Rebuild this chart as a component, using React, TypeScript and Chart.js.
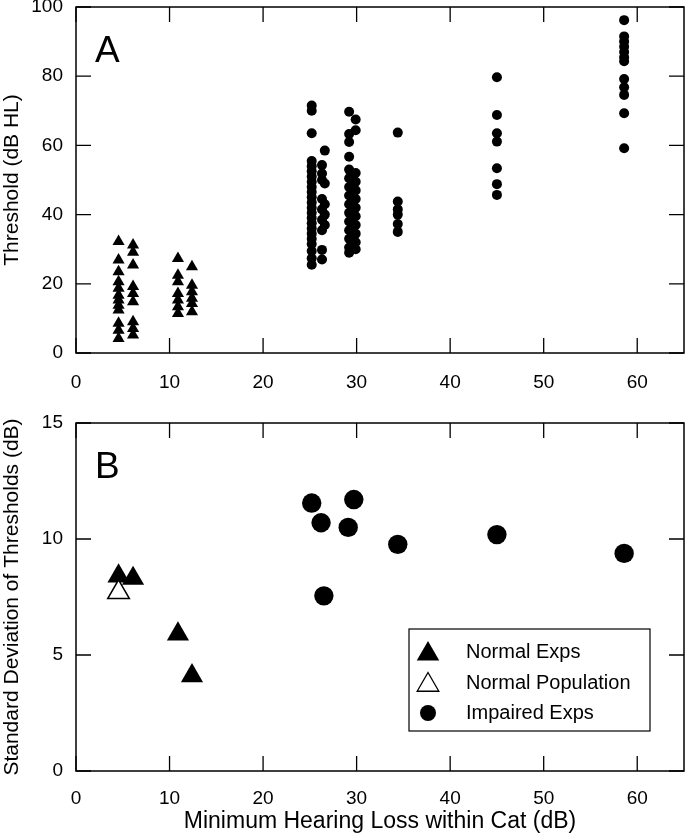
import React, { useEffect, useRef } from 'react';
import { Chart, registerables } from 'chart.js';

Chart.register(...registerables);

const FONT = "'Liberation Sans', Arial, Helvetica, sans-serif";

// ---------- Panel A: thresholds per cat ----------
const normalCatHL = [4.55, 6.1, 10.9, 12.4];
const normalCat1 = [32.2, 26.9, 23.5, 20.6, 18.7, 16.7, 15.3, 13.8, 12.4, 8.6, 6.6, 4.2];
const normalCat2 = [31.2, 29.1, 25.4, 19.2, 17.2, 14.8, 9.0, 7.1, 5.2];
const normalCat3 = [27.3, 22.5, 20.6, 17.2, 15.3, 13.4, 11.4];
const normalCat4 = [24.9, 19.6, 17.7, 15.8, 14.3, 11.9];

const impairedCatHL = [25.2, 26.3, 26.6, 29.2, 29.9, 34.4, 45.0, 58.6];
const impairedCat1 = [71.5, 70.0, 63.5, 55.5, 54.0, 52.5, 51.0, 49.5, 48.0, 46.5, 45.0, 43.5, 42.0, 40.5, 39.0, 37.5, 36.0, 34.5, 33.0, 31.5, 29.5, 27.4, 25.5];
const impairedCat2 = [54.3, 51.9, 50.0, 44.5, 41.5, 38.5, 35.5, 29.8, 27.0];
const impairedCat3 = [58.5, 49.0, 43.0, 40.0, 37.0];
const impairedCat4 = [69.7, 63.3, 61.0, 56.7, 53.0, 50.5, 48.0, 45.5, 43.0, 40.5, 38.0, 35.5, 33.0, 30.5, 29.0];
const impairedCat5 = [67.5, 64.4, 52.0, 49.5, 47.0, 44.5, 42.0, 39.5, 37.0, 34.5, 32.0, 30.0];
const impairedCat6 = [63.7, 43.8, 41.5, 40.0, 37.3, 35.0];
const impairedCat7 = [79.7, 68.8, 63.5, 61.1, 53.4, 48.8, 45.7];
const impairedCat8 = [96.2, 91.5, 90.0, 88.5, 87.0, 85.5, 84.3, 79.2, 76.8, 74.6, 69.3, 59.2];

const normalCats = [normalCat1, normalCat2, normalCat3, normalCat4];
const impairedCats = [impairedCat1, impairedCat2, impairedCat3, impairedCat4, impairedCat5, impairedCat6, impairedCat7, impairedCat8];

// ---------- Panel B: standard deviations ----------
const sdNormalHL = [4.55, 6.1, 10.9, 12.4];
const sdNormal = [8.4, 8.3, 5.9, 4.1];
const sdPopHL = [4.55];
const sdPop = [7.7];
const sdImpairedHL = [25.2, 26.2, 26.5, 29.1, 29.7, 34.4, 45.0, 58.6];
const sdImpaired = [11.55, 10.7, 7.55, 10.5, 11.7, 9.77, 10.19, 9.38];

const legendLabels = ['Normal Exps', 'Normal Population', 'Impaired Exps'];

const xTicks = [0, 10, 20, 30, 40, 50, 60];

function columnsToPoints(xs: number[], cols: number[][]) {
  const pts: { x: number; y: number }[] = [];
  cols.forEach((col, i) => col.forEach((v) => pts.push({ x: xs[i], y: v })));
  return pts;
}
function zip(xs: number[], ys: number[]) {
  return xs.map((x, i) => ({ x, y: ys[i] }));
}

const frameTicksPlugin = {
  id: 'frameTicks',
  afterDraw(chart: any) {
    const { ctx, chartArea } = chart;
    const { left, right, top, bottom } = chartArea;
    const len = 15;
    ctx.save();
    ctx.strokeStyle = '#000';
    ctx.lineWidth = 1.3;
    const xs = chart.scales.x;
    const ys = chart.scales.y;
    ctx.beginPath();
    xs.ticks.forEach((t: any) => {
      const px = xs.getPixelForValue(t.value);
      ctx.moveTo(px, bottom);
      ctx.lineTo(px, bottom - len);
      ctx.moveTo(px, top);
      ctx.lineTo(px, top + len);
    });
    ys.ticks.forEach((t: any) => {
      const py = ys.getPixelForValue(t.value);
      ctx.moveTo(left, py);
      ctx.lineTo(left + len, py);
      ctx.moveTo(right, py);
      ctx.lineTo(right - len, py);
    });
    ctx.stroke();
    ctx.lineWidth = 1.5;
    ctx.strokeRect(left, top, right - left, bottom - top);
    const label = chart.options.plugins.panelLabel?.text;
    if (label) {
      ctx.fillStyle = '#000';
      ctx.font = `37px ${FONT}`;
      ctx.textAlign = 'left';
      ctx.textBaseline = 'alphabetic';
      ctx.fillText(label, left + 19, top + 55);
    }
    ctx.restore();
  },
};

function drawMarker(ctx: CanvasRenderingContext2D, style: string, x: number, y: number, r: number, fill: string, stroke: string, lw: number) {
  ctx.beginPath();
  if (style === 'triangle') {
    let rad = 0;
    const third = (2 * Math.PI) / 3;
    ctx.moveTo(x + Math.sin(rad) * r, y - Math.cos(rad) * r);
    rad += third;
    ctx.lineTo(x + Math.sin(rad) * r, y - Math.cos(rad) * r);
    rad += third;
    ctx.lineTo(x + Math.sin(rad) * r, y - Math.cos(rad) * r);
    ctx.closePath();
  } else {
    ctx.arc(x, y, r, 0, Math.PI * 2);
  }
  ctx.fillStyle = fill;
  ctx.fill();
  if (lw > 0) {
    ctx.strokeStyle = stroke;
    ctx.lineWidth = lw;
    ctx.stroke();
  }
}

const boxLegendPlugin = {
  id: 'boxLegend',
  afterDraw(chart: any) {
    if (!chart.options.plugins.boxLegend?.enabled) return;
    const { ctx, chartArea } = chart;
    const bx = chartArea.left + 333;
    const by = chartArea.top + 206;
    const bw = 241;
    const bh = 102;
    ctx.save();
    ctx.strokeStyle = '#000';
    ctx.lineWidth = 1.2;
    ctx.strokeRect(bx, by, bw, bh);
    const rows = [23, 54, 84];
    const styles = [
      { s: 'triangle', r: 13, fill: '#000', stroke: '#000', lw: 0, dy: 2 },
      { s: 'triangle', r: 12.5, fill: '#fff', stroke: '#000', lw: 1.3, dy: 2 },
      { s: 'circle', r: 8, fill: '#000', stroke: '#000', lw: 0, dy: 0 },
    ];
    ctx.font = `20px ${FONT}`;
    ctx.textAlign = 'left';
    ctx.textBaseline = 'middle';
    chart.data.datasets.forEach((ds: any, i: number) => {
      const st = styles[i];
      drawMarker(ctx, st.s, bx + 19, by + rows[i] + st.dy, st.r, st.fill, st.stroke, st.lw);
      ctx.fillStyle = '#000';
      ctx.fillText(legendLabels[i], bx + 57, by + rows[i]);
    });
    ctx.restore();
  },
};

function makeScales(yMax: number, yStep: number, yTitle: string, xTitle: string | null, xAxisHeight: number, xLabelPad: number) {
  return {
    x: {
      type: 'linear',
      min: 0,
      max: 65,
      afterBuildTicks: (s: any) => {
        s.ticks = xTicks.map((v) => ({ value: v }));
      },
      ticks: { includeBounds: false, padding: xLabelPad, maxRotation: 0, autoSkip: false, color: '#000', font: { family: FONT, size: 19 } },
      grid: { display: false, drawTicks: false },
      border: { display: false },
      title: xTitle
        ? { display: true, text: xTitle, color: '#000', padding: 0, font: { family: FONT, size: 23 } }
        : { display: false },
      afterFit: (s: any) => {
        s.height = xAxisHeight;
        s.paddingLeft = 0;
        s.paddingRight = 0;
      },
    },
    y: {
      type: 'linear',
      min: 0,
      max: yMax,
      ticks: { stepSize: yStep, includeBounds: false, padding: 13, color: '#000', font: { family: FONT, size: 19 } },
      grid: { display: false, drawTicks: false },
      border: { display: false },
      title: { display: true, text: yTitle, color: '#000', padding: 0, font: { family: FONT, size: 21 } },
      afterFit: (s: any) => {
        s.width = 76;
        s.paddingTop = 0;
        s.paddingBottom = 0;
      },
    },
  };
}

export default function App() {
  const refA = useRef<HTMLCanvasElement>(null);
  const refB = useRef<HTMLCanvasElement>(null);

  useEffect(() => {
    document.body.style.margin = '0';
    const chartA = new Chart(refA.current as HTMLCanvasElement, {
      type: 'scatter',
      data: {
        datasets: [
          {
            label: 'Normal Exps',
            data: columnsToPoints(normalCatHL, normalCats),
            pointStyle: 'triangle',
            pointRadius: 7,
            backgroundColor: '#000',
            borderColor: '#000',
            borderWidth: 0,
          },
          {
            label: 'Impaired Exps',
            data: columnsToPoints(impairedCatHL, impairedCats),
            pointStyle: 'circle',
            pointRadius: 5,
            backgroundColor: '#000',
            borderColor: '#000',
            borderWidth: 0,
          },
        ],
      },
      options: {
        animation: false,
        responsive: false,
        events: [],
        layout: { autoPadding: false, padding: { top: 7, right: 1, left: 0, bottom: 0 } },
        scales: makeScales(100, 20, 'Threshold (dB HL)', null, 57, 18) as any,
        plugins: {
          legend: { display: false },
          tooltip: { enabled: false },
          panelLabel: { text: 'A' },
        } as any,
      },
      plugins: [frameTicksPlugin, boxLegendPlugin],
    });

    const chartB = new Chart(refB.current as HTMLCanvasElement, {
      type: 'scatter',
      data: {
        datasets: [
          {
            label: 'Normal Exps',
            data: zip(sdNormalHL, sdNormal),
            pointStyle: 'triangle',
            pointRadius: 12.8,
            backgroundColor: '#000',
            borderColor: '#000',
            borderWidth: 0,
            order: 1,
          },
          {
            label: 'Normal Population',
            data: zip(sdPopHL, sdPop),
            pointStyle: 'triangle',
            pointRadius: 12.5,
            backgroundColor: '#fff',
            borderColor: '#000',
            borderWidth: 1.5,
            order: 0,
          },
          {
            label: 'Impaired Exps',
            data: zip(sdImpairedHL, sdImpaired),
            pointStyle: 'circle',
            pointRadius: 9.7,
            backgroundColor: '#000',
            borderColor: '#000',
            borderWidth: 0,
            order: 2,
          },
        ],
      },
      options: {
        animation: false,
        responsive: false,
        events: [],
        layout: { autoPadding: false, padding: { top: 13, right: 1, left: 0, bottom: 0 } },
        scales: makeScales(15, 5, 'Standard Deviation of Thresholds (dB)', 'Minimum Hearing Loss within Cat (dB)', 64, 16) as any,
        plugins: {
          legend: { display: false },
          tooltip: { enabled: false },
          panelLabel: { text: 'B' },
          boxLegend: { enabled: true },
        } as any,
      },
      plugins: [frameTicksPlugin, boxLegendPlugin],
    });

    return () => {
      chartA.destroy();
      chartB.destroy();
    };
  }, []);

  return (
    <div style={{ position: 'absolute', left: 0, top: 0, width: 685, height: 835, background: '#fff' }}>
      <canvas ref={refA} width={685} height={410} style={{ display: 'block', width: 685, height: 410 }} />
      <canvas ref={refB} width={685} height={425} style={{ display: 'block', width: 685, height: 425 }} />
    </div>
  );
}
